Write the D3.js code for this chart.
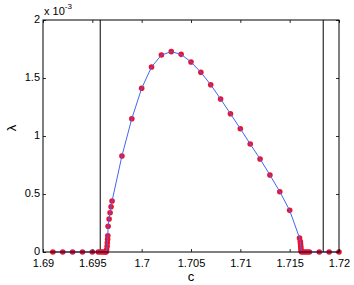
<!DOCTYPE html>
<html>
<head>
<meta charset="utf-8">
<script src="https://cdn.jsdelivr.net/npm/d3@7"></script>
<style>
  body { margin: 0; background: #fff; }
  svg { font-family: "Liberation Sans", Arial, sans-serif; }
</style>
</head>
<body>
<div id="chart"></div>
<script>
// lambda in units of 1e-3
let cVals = [1.691, 1.692, 1.693, 1.694, 1.695, 1.6956, 1.6958, 1.6960, 1.6962, 1.6963, 1.6964,
             1.69645, 1.6965, 1.69652, 1.69655, 1.69657, 1.6966, 1.6967, 1.6968, 1.6969, 1.6970,
             1.698, 1.699, 1.700, 1.701, 1.702, 1.703, 1.704, 1.705, 1.706, 1.707, 1.708, 1.709,
             1.710, 1.711, 1.712, 1.713, 1.714, 1.715, 1.716,
             1.71608, 1.7161, 1.71612, 1.71614, 1.71616, 1.7162, 1.7164, 1.7166, 1.7168, 1.717,
             1.718, 1.719, 1.720];
let lamVals = [0, 0, 0, 0, 0, 0, 0, 0, 0, 0, 0,
               0.02, 0.05, 0.08, 0.11, 0.14, 0.222, 0.284, 0.339, 0.390, 0.440,
               0.828, 1.149, 1.411, 1.595, 1.698, 1.727, 1.704, 1.638, 1.549, 1.442, 1.319, 1.192,
               1.063, 0.931, 0.802, 0.664, 0.520, 0.359, 0.121,
               0.09, 0.07, 0.05, 0.03, 0.01, 0, 0, 0, 0, 0,
               0, 0, 0];
let critVals = [1.6958, 1.7184];
let xTicks = [1.69, 1.695, 1.7, 1.705, 1.71, 1.715, 1.72];
let xTickLabels = ["1.69", "1.695", "1.7", "1.705", "1.71", "1.715", "1.72"];
let yTicks = [0, 0.5, 1, 1.5, 2];
let yTickLabels = ["0", "0.5", "1", "1.5", "2"];

let width = 354, height = 285;
let mLeft = 43, mRight = 339, mTop = 20, mBottom = 252;

const svg = d3.select("#chart").append("svg")
              .attr("width", width)
              .attr("height", height);

const x = d3.scaleLinear().domain([1.69, 1.72]).range([mLeft, mRight]);
const y = d3.scaleLinear().domain([0, 2]).range([mBottom, mTop]);

// critical c lines
svg.selectAll(".crit")
   .data(critVals)
   .enter()
   .append("line")
   .attr("class", "crit")
   .attr("x1", d => x(d)).attr("x2", d => x(d))
   .attr("y1", mTop).attr("y2", mBottom)
   .attr("stroke", "#000")
   .attr("stroke-width", 1);

const data = cVals.map((c, i) => ({c: c, l: lamVals[i]}));

// markers
svg.selectAll(".dot")
   .data(data)
   .enter()
   .append("circle")
   .attr("class", "dot")
   .attr("cx", d => x(d.c))
   .attr("cy", d => y(d.l))
   .attr("r", 2.8)
   .attr("fill", "#f0102a");

// line
const line = d3.line().x(d => x(d.c)).y(d => y(d.l));
svg.append("path")
   .datum(data)
   .attr("d", line)
   .attr("fill", "none")
   .attr("stroke", "#4466f0")
   .attr("stroke-width", 1);

// axes (ticks inward)
const xAxis = d3.axisBottom(x).tickValues(xTicks)
                .tickFormat((d, i) => xTickLabels[i])
                .tickSizeInner(-3).tickSizeOuter(0).tickPadding(7);
const gx = svg.append("g").attr("transform", "translate(0," + mBottom + ")").call(xAxis);

const yAxis = d3.axisLeft(y).tickValues(yTicks)
                .tickFormat((d, i) => yTickLabels[i])
                .tickSizeInner(-3).tickSizeOuter(0).tickPadding(3);
const gy = svg.append("g").attr("transform", "translate(" + mLeft + ",0)").call(yAxis);

const gxt = svg.append("g").attr("transform", "translate(0," + mTop + ")")
               .call(d3.axisTop(x).tickValues(xTicks).tickFormat("").tickSizeInner(-3).tickSizeOuter(0));
const gyr = svg.append("g").attr("transform", "translate(" + mRight + ",0)")
               .call(d3.axisRight(y).tickValues(yTicks).tickFormat("").tickSizeInner(-3).tickSizeOuter(0));

[gx, gy, gxt, gyr].forEach(g => {
  g.select(".domain").remove();
  g.selectAll("line").attr("stroke", "#333");
  g.selectAll("text").attr("font-size", 11).attr("fill", "#000")
   .attr("font-family", "Liberation Sans, Arial, sans-serif");
});
gy.selectAll("text").attr("dy", "0.2em");

svg.append("rect")
   .attr("x", mLeft).attr("y", mTop)
   .attr("width", mRight - mLeft).attr("height", mBottom - mTop)
   .attr("fill", "none")
   .attr("stroke", "#000")
   .attr("stroke-width", 1);

// exponent label
const ex = svg.append("text")
   .attr("x", mLeft + 1).attr("y", mTop - 5)
   .attr("font-size", 11);
ex.append("tspan").text("x 10");
ex.append("tspan").attr("dy", -6).attr("font-size", 8).text("-3");

// axis labels
svg.append("text")
   .attr("x", x(1.705)).attr("y", 281)
   .attr("text-anchor", "middle")
   .attr("font-size", 13)
   .text("c");

svg.append("text")
   .attr("transform", "translate(16,128) rotate(-90)")
   .attr("text-anchor", "middle")
   .attr("font-size", 13)
   .text("λ");
</script>
</body>
</html>
